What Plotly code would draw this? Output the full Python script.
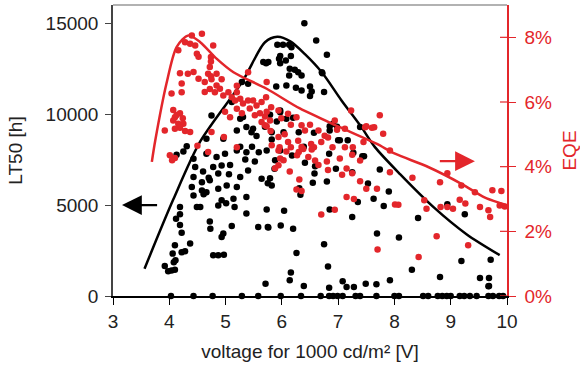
import plotly.graph_objects as go

RED = "#e3262b"
FONT = "Liberation Sans, Arial, sans-serif"

# ---- LT50 scatter (voltage [V], LT50 [h]) ----
lt_zero_x = [4.03, 4.43, 4.77, 5.29, 5.58, 5.98, 6.34, 6.69, 6.84, 6.91, 6.99, 7.08, 7.31, 7.39,
             7.68, 8.00, 8.08, 8.51, 8.60, 8.77, 8.85, 8.93, 9.00, 9.16, 9.24, 9.34, 9.46, 9.67,
             9.75, 9.86, 9.93]
lt_pts = [
    (5.71, 680), (6.14, 860), (6.39, 550), (6.84, 460), (7.08, 810), (7.15, 490), (7.28, 490),
    (7.49, 680), (7.68, 640), (7.92, 860), (9.67, 530),
    (6.16, 1290), (6.26, 2360), (6.75, 2840), (6.82, 1620), (7.69, 3430), (7.25, 4340),
    (5.76, 3760), (5.98, 3880), (6.20, 3700), (6.04, 4690), (5.73, 4760), (6.85, 4760),
    (7.35, 5170), (7.63, 5350), (7.81, 4950), (7.90, 5750), (7.53, 6180),
    (7.74, 6950), (7.25, 6810), (6.96, 7000), (6.80, 6300), (6.58, 6730), (6.59, 7130),
    (6.55, 6230), (6.33, 5570), (6.31, 5930), (5.82, 6080), (5.79, 6480), (5.75, 6200),
    (5.88, 7460), (5.87, 7000), (5.97, 8000), (6.18, 7730), (6.41, 7330), (6.84, 7820),
    (7.46, 7690), (7.27, 7880), (6.39, 8200),
    (8.08, 3210), (8.42, 4290), (8.31, 1450), (8.81, 1040), (8.94, 5040), (9.25, 4490),
    (9.19, 1920), (9.52, 990), (9.68, 990), (9.68, 550), (9.71, 2000),
    (6.40, 15000), (6.61, 14050), (6.80, 13260), (5.92, 13810), (6.02, 13810), (6.13, 13810),
    (5.76, 12860), (5.95, 13050), (5.97, 12800), (6.07, 12950), (6.16, 13190), (6.14, 12500),
    (6.23, 12440), (6.29, 12300), (6.13, 12130), (6.35, 12130), (6.72, 12250), (6.08, 11580),
    (6.25, 11450), (6.35, 11300), (6.50, 11520), (6.53, 11250), (6.50, 11000), (6.75, 11210),
    (5.90, 11520), (5.97, 10200), (5.79, 9970), (6.08, 9750), (5.91, 9600), (6.91, 9470),
    (6.98, 9300), (7.39, 9290), (6.85, 9100), (6.57, 8980), (7.00, 8560), (7.17, 8560),
    (5.82, 9000), (5.67, 12860), (5.97, 13200), (6.17, 13680),
    (5.72, 12800), (5.29, 11760), (5.40, 11670), (5.11, 10660), (5.26, 9750), (5.37, 9290),
    (5.49, 9200), (5.20, 9100), (4.75, 9930), (5.55, 8800), (4.66, 8650), (4.96, 8650),
    (4.31, 8230), (5.26, 8200), (5.47, 8200),
    (4.13, 7770), (4.25, 7950), (4.43, 7550), (4.66, 7820), (4.84, 7640), (4.99, 7820),
    (5.20, 8000), (5.37, 7910), (5.59, 7900), (5.73, 8000), (4.46, 7090), (4.60, 6850),
    (4.78, 7090), (4.93, 7180), (5.08, 7200), (5.35, 7500), (5.52, 7400), (4.43, 6540),
    (4.58, 6260), (4.70, 6500), (4.72, 6360), (4.87, 6730), (5.06, 6700), (5.26, 6540),
    (5.40, 6900), (5.64, 6450),
    (4.40, 5990), (4.58, 5800), (4.66, 5710), (4.87, 5900), (5.02, 6080), (5.20, 5990),
    (4.43, 5530), (4.61, 5600), (4.93, 5260), (5.14, 5350), (5.37, 5440), (4.87, 4980),
    (5.01, 5100), (5.16, 4900), (4.49, 4890), (4.55, 4890), (5.37, 4530), (4.19, 4890),
    (4.19, 4500), (4.12, 4250), (4.19, 3900), (4.72, 4100), (4.73, 3700), (5.11, 3850),
    (4.22, 3480), (4.96, 3430), (4.93, 3250), (4.10, 2790), (4.37, 2880), (4.28, 2460),
    (4.22, 2400), (4.06, 2330), (4.11, 1960), (4.08, 1860), (4.78, 2240), (4.87, 2240),
    (4.97, 2270), (3.92, 1650), (3.98, 1360), (4.04, 1400), (4.10, 1450), (5.58, 3790),
    (5.75, 3790), (6.71, 12300), (7.03, 8560), (6.85, 9330), (7.43, 7680),
    (5.31, 9840), (5.46, 9010), (5.70, 9300), (5.97, 10100), (6.03, 9000), (5.82, 8600),
    (6.20, 9800), (6.30, 9000),
]
lt_x = lt_zero_x + [p[0] for p in lt_pts]
lt_y = [0] * len(lt_zero_x) + [p[1] for p in lt_pts]

# ---- EQE scatter (voltage [V], EQE [%]) ----
eqe_pts = [
    (4.40, 8.06), (4.58, 8.11), (4.28, 7.85), (4.37, 7.80), (4.46, 7.75), (4.16, 7.60),
    (4.78, 7.75), (4.49, 7.49), (4.52, 7.40), (4.74, 7.39), (4.72, 7.08), (4.19, 6.89),
    (4.33, 6.87), (4.43, 6.93), (4.69, 6.87), (4.84, 6.87), (4.22, 6.57), (4.22, 6.30),
    (4.52, 6.72), (4.63, 6.62), (4.75, 6.70), (4.84, 6.51), (4.93, 6.70), (4.63, 6.31),
    (4.72, 6.40), (4.81, 6.30), (4.90, 6.41), (4.96, 6.20), (5.05, 6.30), (5.11, 6.15),
    (5.20, 6.30), (5.17, 6.05), (5.26, 6.10), (5.31, 5.95), (5.40, 6.05), (5.49, 6.05),
    (5.55, 5.89), (5.64, 6.00), (5.43, 5.80), (5.52, 5.59), (5.61, 5.65), (5.70, 5.55),
    (5.64, 5.38), (5.73, 5.25), (5.20, 5.79), (5.29, 5.65), (5.08, 5.53), (4.99, 5.70),
    (4.10, 5.53), (4.19, 5.65), (4.24, 5.50), (4.07, 5.43), (4.16, 5.33), (4.25, 5.33),
    (4.19, 5.20), (4.10, 5.17), (4.28, 5.10), (3.92, 5.12), (4.37, 5.07), (4.07, 5.75),
    (4.04, 6.26), (4.13, 5.60), (4.75, 5.07), (4.97, 4.92), (4.50, 4.65), (4.01, 4.35),
    (4.10, 4.27), (4.05, 4.20), (4.69, 4.45), (5.20, 4.60), (4.74, 7.25), (4.74, 6.80),
    (5.40, 6.92), (5.73, 6.62), (5.20, 6.50),
    (5.72, 6.15), (5.81, 5.84), (5.73, 5.70), (5.79, 5.43), (5.94, 5.74), (5.99, 5.50),
    (6.11, 5.64), (6.16, 5.30), (6.26, 5.53), (6.35, 5.28), (6.41, 5.12), (6.50, 5.30),
    (6.65, 5.12), (6.76, 4.96), (6.70, 4.76), (6.82, 4.90), (6.94, 5.43), (6.98, 5.14),
    (7.12, 5.17), (7.23, 5.74), (7.48, 5.22), (7.64, 5.22), (7.74, 5.59), (7.80, 5.02),
    (5.80, 5.10), (5.94, 4.92), (6.05, 5.00), (6.11, 4.76), (6.29, 4.80), (6.35, 4.61),
    (6.52, 4.70), (6.57, 4.60), (5.82, 4.66), (5.96, 4.60), (5.70, 5.28), (7.12, 4.60),
    (6.90, 4.60), (7.26, 4.60), (7.45, 4.76), (7.50, 5.25), (7.60, 5.20),
    (5.94, 4.50), (6.08, 4.47), (6.16, 4.60), (6.30, 4.45), (6.38, 4.55), (6.53, 4.53),
    (6.47, 4.30), (6.27, 4.35), (5.97, 4.25), (6.03, 4.20), (5.94, 4.04), (5.88, 3.95),
    (6.14, 3.85), (6.59, 4.19), (6.65, 4.05), (6.80, 4.16), (6.82, 3.90), (7.03, 4.25),
    (7.25, 4.37), (7.15, 3.94), (7.07, 3.75), (7.25, 3.80), (7.39, 4.19), (7.39, 3.55),
    (7.50, 3.32), (7.69, 3.32), (7.92, 4.50), (7.92, 3.83), (8.01, 2.83), (8.07, 2.82),
    (6.26, 3.29), (6.35, 3.25), (7.15, 3.06), (7.28, 3.00), (6.70, 2.52), (6.94, 2.67),
    (7.70, 1.44), (6.31, 3.60),
    (8.43, 1.21), (8.75, 1.85), (9.31, 1.57), (8.32, 3.66), (8.53, 2.96), (8.57, 2.70),
    (8.81, 3.52), (8.94, 3.80), (8.82, 2.75), (8.94, 2.75), (9.04, 2.70), (9.16, 2.98),
    (9.19, 3.42), (9.26, 2.86), (9.43, 3.21), (9.52, 2.75), (9.67, 2.65), (9.70, 2.44),
    (9.74, 3.27), (9.87, 2.80), (9.90, 3.25), (9.96, 2.77),
]
eqe_x = [p[0] for p in eqe_pts]
eqe_y = [p[1] for p in eqe_pts]

# ---- trend curves ----
lt_fit_x = [3.56, 4.07, 4.55, 5.30, 5.70, 5.92, 6.15, 6.41, 6.71, 7.06, 7.41, 7.65, 8.10, 8.69, 9.28, 9.87]
lt_fit_y = [1500, 5300, 8500, 11800, 13950, 14250, 14000, 13300, 12300, 10750, 9300, 8200, 6700, 4900, 3400, 2250]
eqe_fit_x = [3.69, 3.75, 3.95, 4.13, 4.34, 4.55, 4.84, 5.14, 5.73, 6.32, 7.03, 7.68, 8.01, 8.60, 9.19, 9.60, 9.90, 10.0]
eqe_fit_y = [4.15, 4.80, 6.57, 7.70, 8.06, 7.85, 7.34, 6.92, 6.41, 5.80, 5.22, 4.71, 4.40, 3.99, 3.47, 3.05, 2.86, 2.80]

lt_ticks = [0, 5000, 10000, 15000]
eqe_ticks = [0, 2, 4, 6, 8]
eqe_ticktext = [f"{t}%" for t in eqe_ticks]

fig = go.Figure()
fig.add_trace(go.Scatter(x=eqe_x, y=eqe_y, yaxis="y2", mode="markers",
                         marker=dict(color=RED, size=6.5), cliponaxis=False, showlegend=False))
fig.add_trace(go.Scatter(x=lt_x, y=lt_y, mode="markers",
                         marker=dict(color="black", size=6.5), cliponaxis=False, showlegend=False))
fig.add_trace(go.Scatter(x=lt_fit_x, y=lt_fit_y, mode="lines",
                         line=dict(color="black", width=2.5, shape="spline", smoothing=0.8),
                         showlegend=False))
fig.add_trace(go.Scatter(x=eqe_fit_x, y=eqe_fit_y, yaxis="y2", mode="lines",
                         line=dict(color=RED, width=2.5, shape="spline", smoothing=0.8),
                         showlegend=False))

tickfont = dict(family=FONT, size=19, color="#222")
redfont = dict(family=FONT, size=19, color=RED)

fig.update_layout(
    width=580, height=372,
    margin=dict(l=113, r=73, t=5, b=76, autoexpand=False),
    paper_bgcolor="white", plot_bgcolor="white",
    font=dict(family=FONT, size=19, color="#222"),
    xaxis=dict(range=[3, 10], dtick=1, tick0=3, showgrid=False, zeroline=False,
               showline=True, linecolor="black", linewidth=1.5, automargin=False,
               ticks="outside", ticklen=7, tickcolor="black", tickwidth=1.2,
               tickfont=tickfont,
               title=dict(text="voltage for 1000 cd/m² [V]", font=tickfont, standoff=14)),
    yaxis=dict(range=[0, 16000], tickvals=lt_ticks, tickformat="d", automargin=False,
               showgrid=False, zeroline=False,
               showline=True, linecolor="#444", linewidth=1.5,
               ticks="outside", ticklen=6, tickcolor="#444", tickwidth=1.2,
               ticklabelstandoff=3,
               tickfont=tickfont,
               title=dict(text="LT50 [h]", font=tickfont, standoff=18)),
    yaxis2=dict(range=[0, 9], tickvals=eqe_ticks, ticktext=eqe_ticktext, overlaying="y",
                side="right", automargin=False,
                showgrid=False, zeroline=False,
                showline=True, linecolor=RED, linewidth=1.5,
                ticks="outside", ticklen=7, tickcolor=RED, tickwidth=1.2,
                ticklabelstandoff=5,
                tickfont=redfont,
                title=dict(text="EQE", font=redfont, standoff=12)),
)

# top frame line
fig.add_shape(type="line", xref="paper", yref="paper", x0=0, x1=1, y0=1, y1=1,
              line=dict(color="#999", width=1.5))
# inner half of crossing ticks on the EQE axis
for t in eqe_ticks:
    fig.add_shape(type="line", xref="paper", yref="y2", x0=1 - 7 / 394, x1=1, y0=t, y1=t,
                  line=dict(color=RED, width=1.2))

# direction arrows
fig.add_annotation(x=3.16, y=5000, ax=3.81, ay=5000, xref="x", yref="y", axref="x", ayref="y",
                   text="", showarrow=True, arrowhead=2, arrowsize=1.8, arrowwidth=2.2,
                   arrowcolor="black", standoff=0)
fig.add_annotation(x=9.43, y=4.17, ax=8.78, ay=4.17, xref="x", yref="y2", axref="x", ayref="y2",
                   text="", showarrow=True, arrowhead=2, arrowsize=1.8, arrowwidth=2.2,
                   arrowcolor=RED, standoff=0)

fig.write_html("out.html", config={"displayModeBar": False},
               post_script="document.body.style.margin='0';")
